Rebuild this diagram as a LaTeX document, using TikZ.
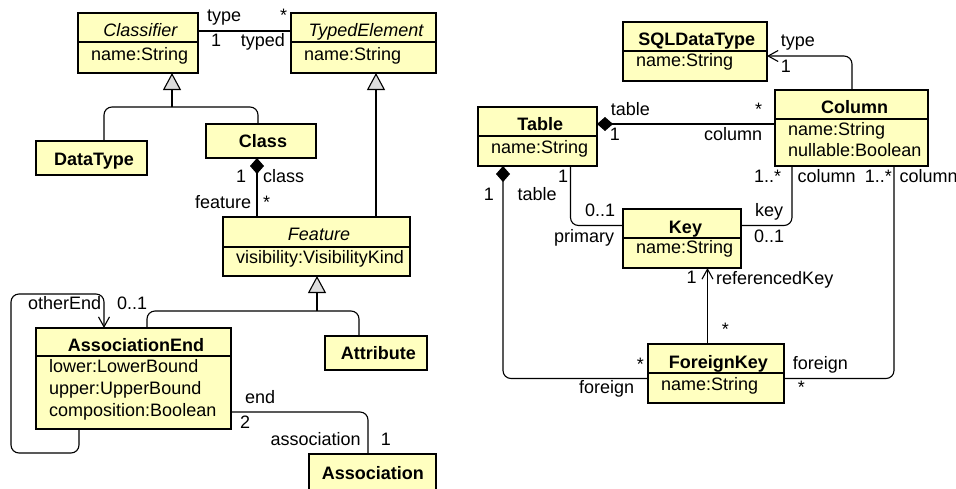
\documentclass[tikz,border=0pt]{standalone}
\usepackage{fontspec}
\setmainfont{Liberation Sans}
\usetikzlibrary{arrows.meta,fit}
\definecolor{boxfill}{HTML}{FFFFC0}
\definecolor{trifill}{HTML}{DDDDDD}
\tikzset{
  clsbox/.style={draw, fill=boxfill, line width=1.6pt, inner sep=0pt, outer sep=0pt},
  clsline/.style={line width=1.3pt},
  conn/.style={line width=1.1pt},
  rc/.style={rounded corners=8pt},
  gentip/.style={-{Triangle[length=17pt,width=18pt,fill=trifill]}},
  comptip/.style={-{Diamond[length=16pt,width=14pt]}},
  opentip/.style={-{Straight Barb[length=10pt,width=11pt]}},
  lbl/.style={inner sep=0pt, anchor=base west},
  ttl/.style={inner sep=0pt, anchor=base},
}
\newcommand\mybox[5]{\node[clsbox, fit={(#2,#3) (#4,#5)}] (#1) {};}
\newcommand\mydiv[2]{\draw[clsline] (#1.west |- 0,#2) -- (#1.east |- 0,#2);}
\newcommand\mylab[4]{\node[lbl] (#1) at (#2,#3) {#4};}
\begin{document}
\begin{tikzpicture}[x=1pt,y=-1pt,font=\fontsize{18}{21}\selectfont]
\useasboundingbox (0,0) rectangle (956,488);
% ---------- left diagram boxes ----------
\mybox{Classifier}{78}{13}{198}{73}\mydiv{Classifier}{42}
\node[ttl] (ClassifierT) at (140.5,36.7) {\itshape Classifier};
\node[lbl] (ClassifierA) at (91,60.3) {name:String};
\mybox{TypedElement}{291}{13}{436}{73}\mydiv{TypedElement}{42}
\node[ttl] (TypedElementT) at (366,36.7) {\itshape TypedElement};
\node[lbl] (TypedElementA) at (304,60) {name:String};
\mybox{DataType}{36}{141}{147}{175}
\node[ttl] (DataTypeT) at (94,165) {\bfseries DataType};
\mybox{Class}{206}{124}{316}{158}
\node[ttl] (ClassT) at (263,147) {\bfseries Class};
\mybox{Feature}{223}{217}{410}{276}\mydiv{Feature}{247}
\node[ttl] (FeatureT) at (319,240.5) {\itshape Feature};
\node[lbl] (FeatureA) at (236,263.3) {visibility:VisibilityKind};
\mybox{AssociationEnd}{36}{328}{231}{429}\mydiv{AssociationEnd}{356}
\node[ttl] (AssociationEndT) at (136,351.7) {\bfseries AssociationEnd};
\node[lbl] (AssociationEndA) at (49,372.7) {lower:LowerBound};
\node[lbl] (AssociationEndB) at (49,394.3) {upper:UpperBound};
\node[lbl] (AssociationEndC) at (49,416) {composition:Boolean};
\mybox{Attribute}{325}{336}{427}{370}
\node[ttl] (AttributeT) at (378.3,359.3) {\bfseries Attribute};
\mybox{Association}{309}{454}{436}{495}
\node[ttl] (AssociationT) at (372.8,479.3) {\bfseries Association};
% ---------- right diagram boxes ----------
\mybox{SQLDataType}{623}{22}{767}{81}\mydiv{SQLDataType}{51}
\node[ttl] (SQLDataTypeT) at (696.7,45) {\bfseries SQLDataType};
\node[lbl] (SQLDataTypeA) at (636,66.7) {name:String};
\mybox{Column}{775}{90}{928}{166}\mydiv{Column}{119}
\node[ttl] (ColumnT) at (854.7,113.3) {\bfseries Column};
\node[lbl] (ColumnA) at (788,135) {name:String};
\node[lbl] (ColumnB) at (788,156.7) {nullable:Boolean};
\mybox{Table}{478}{107}{597}{166}\mydiv{Table}{136}
\node[ttl] (TableT) at (540.3,130.7) {\bfseries Table};
\node[lbl] (TableA) at (491,153.3) {name:String};
\mybox{Key}{623}{209}{741}{268}\mydiv{Key}{238}
\node[ttl] (KeyT) at (685.5,233) {\bfseries Key};
\node[lbl] (KeyA) at (636,253.3) {name:String};
\mybox{ForeignKey}{648}{344}{784}{403}\mydiv{ForeignKey}{373}
\node[ttl] (ForeignKeyT) at (718.3,368.3) {\bfseries ForeignKey};
\node[lbl] (ForeignKeyA) at (661,390) {name:String};
% ---------- left connectors ----------
\draw[conn] ([yshift=12pt]Classifier.east) -- ([yshift=12pt]TypedElement.west);
\coordinate (j1) at (172,107);
\draw[conn,gentip] (j1) -- (Classifier.south -| j1);
\draw[conn,rc] ([xshift=12.5pt]DataType.north) |- (j1) -| ([xshift=-3pt]Class.north);
\draw[conn,gentip] ([xshift=59.5pt]Feature.north) -- ([xshift=59.5pt]Feature.north |- TypedElement.south);
\draw[conn,comptip] ([xshift=-59.5pt]Feature.north) -- ([xshift=-59.5pt]Feature.north |- Class.south);
\coordinate (j2) at (317,311);
\draw[conn,gentip] (j2) -- (Feature.south -| j2);
\draw[conn,rc] ([xshift=13.5pt]AssociationEnd.north) |- (j2) -| ([xshift=-17pt]Attribute.north);
\draw[conn,rc,opentip] ([xshift=-54.5pt]AssociationEnd.south) -- ++(0,24) -- ++(-68,0) -- ++(0,-159) -- ++(93,0) -- ([xshift=-29.5pt]AssociationEnd.north);
\draw[conn,rc] ([yshift=-33.5pt]AssociationEnd.east) -| ([xshift=-4.5pt]Association.north);
% ---------- right connectors ----------
\draw[conn,rc,opentip] ([xshift=0.5pt]Column.north) |- ([yshift=-4.5pt]SQLDataType.east);
\draw[conn,comptip] ([yshift=4pt]Column.west) -- ([yshift=12.5pt]Table.east);
\draw[conn,rc,comptip] ([yshift=-5pt]ForeignKey.west) -| ([xshift=-34.5pt]Table.south);
\draw[conn,rc] ([xshift=33pt]Table.south) |- ([yshift=13pt]Key.west);
\draw[conn,rc] ([yshift=13pt]Key.east) -| ([xshift=-59.5pt]Column.south);
\draw[conn,rc] ([xshift=42.5pt]Column.south) |- ([yshift=-5pt]ForeignKey.east);
\draw[conn,opentip] ([xshift=-8.5pt]ForeignKey.north) -- ([xshift=-8.5pt]ForeignKey.north |- Key.south);
% ---------- left labels ----------
\mylab{l1}{207}{21}{type}
\mylab{l2}{280}{21.5}{*}
\mylab{l3}{211}{46.7}{1}
\mylab{l4}{240.7}{46.7}{typed}
\mylab{l5}{236}{182.7}{1}
\mylab{l6}{263}{182.7}{class}
\mylab{l7}{195}{208}{feature}
\mylab{l8}{263}{208.5}{*}
\mylab{l9}{28}{309.3}{otherEnd}
\mylab{l10}{117}{309.3}{0..1}
\mylab{l11}{245}{403.3}{end}
\mylab{l12}{240}{428.3}{2}
\mylab{l13}{270.5}{445}{association}
\mylab{l14}{380.7}{445}{1}
% ---------- right labels ----------
\mylab{r1}{780.7}{46.7}{type}
\mylab{r2}{780.7}{72.7}{1}
\mylab{r3}{610.7}{115}{table}
\mylab{r4}{609.7}{140}{1}
\mylab{r5}{755}{115}{*}
\mylab{r6}{704}{140}{column}
\mylab{r7}{483.7}{200}{1}
\mylab{r8}{517.3}{200}{table}
\mylab{r9}{636.7}{370}{*}
\mylab{r10}{579}{393}{foreign}
\mylab{r11}{558}{182.7}{1}
\mylab{r12}{585}{216.7}{0..1}
\mylab{r13}{554}{242.7}{primary}
\mylab{r14}{755}{216.7}{key}
\mylab{r15}{754}{242.7}{0..1}
\mylab{r16}{754}{182.7}{1..*}
\mylab{r17}{797.3}{182.7}{column}
\mylab{r18}{864.7}{182.7}{1..*}
\mylab{r19}{899.3}{182.7}{column}
\mylab{r20}{792.7}{369.3}{foreign}
\mylab{r21}{797.7}{393.5}{*}
\mylab{r22}{686.3}{283.3}{1}
\mylab{r23}{716}{284}{referencedKey}
\mylab{r24}{721.7}{335}{*}
\end{tikzpicture}
\end{document}
